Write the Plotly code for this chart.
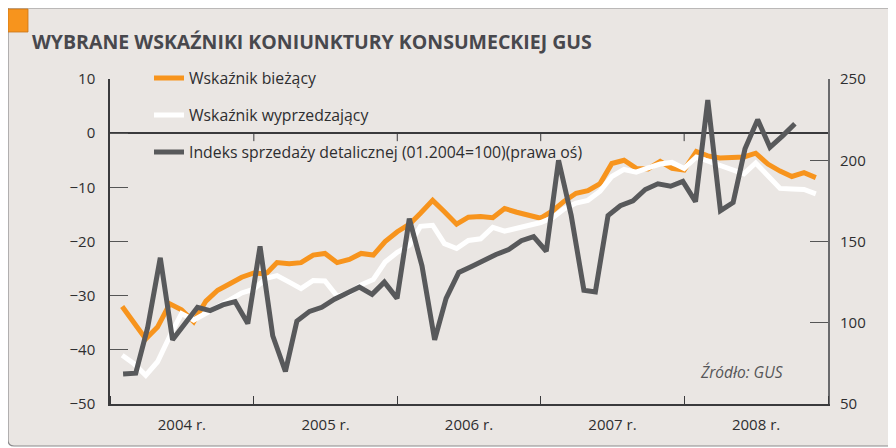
import plotly.graph_objects as go
import pandas as pd

# ---- data ----
months_survey = pd.date_range("2004-01", "2008-11", freq="MS").strftime("%Y-%m").tolist()
months_sales = pd.date_range("2004-01", "2008-07", freq="MS").strftime("%Y-%m").tolist()
year_starts = ["2004-01-01", "2005-01-01", "2006-01-01", "2007-01-01", "2008-01-01", "2009-01-01"]

wskaznik_biezacy = [
    -32, -35, -38, -35.8, -31.5, -32.6, -34.8, -31, -29, -27.8, -26.6, -25.8,
    -26, -23.9, -24.1, -23.9, -22.5, -22.2, -23.9, -23.3, -22.2, -22.5, -20, -18.2,
    -16.8, -14.8, -12.4, -14.5, -16.8, -15.5, -15.4, -15.6, -13.9, -14.6, -15.2, -15.7,
    -14.3, -12.6, -11.1, -10.6, -9.3, -5.6, -5, -6.5, -6.6, -5.2, -6.5, -6.8,
    -3.4, -4.2, -4.6, -4.5, -4.4, -3.7, -5.7, -7, -8, -7.3, -8.2,
]
wskaznik_wyprzedzajacy = [
    -41, -42.5, -44.7, -42.2, -37.5, -33.3, -34.5, -33.3, -32, -30.8, -29.5, -28.8,
    -26.8, -26.3, -27.5, -28.7, -27.2, -27.3, -30.1, -29.5, -28, -27, -23.8, -22,
    -20.7, -17.2, -17, -20.4, -21.3, -19.8, -19.5, -17.4, -18.1, -17.6, -17.1, -16.5,
    -15.6, -14, -12.9, -12.4, -10.7, -8, -6.7, -7.2, -6.4, -5.7, -5.4, -6.5,
    -4.4, -5.2, -6, -6.8, -7.5, -5.5, -8, -10.2, -10.3, -10.4, -11.2,
]
indeks_sprzedazy = [
    68.5, 69, 97, 140, 89.5, 100, 109.5, 107.5, 111, 113, 99.5, 147,
    92, 70, 101, 107, 109.5, 114.5, 118, 122, 117.5, 125, 115, 164,
    135, 89.5, 115, 131, 134.5, 138.5, 142, 145, 150.5, 153, 144, 200,
    166, 120, 119, 166, 172, 175, 182, 185.5, 184, 187, 174.5, 237,
    169, 174, 207, 225, 208, 215, 222.5,
]

names = [
    "Wskaźnik bieżący",
    "Wskaźnik wyprzedzający",
    "Indeks sprzedaży detalicznej (01.2004=100)(prawa oś)",
]
left_ticks = [-50, -40, -30, -20, -10, 0, 10]
right_ticks = [50, 100, 150, 200, 250]

ORANGE = "#F7941D"
WHITE = "#FFFFFF"
GRAY = "#58595B"
BG = "#EAE6E3"
TXT = "#2E2E30"
FONT = "Open Sans"

# plot area in figure pixels
L, T, W, H = 102, 71, 718, 325
FW, FH = 896, 448


def px(x):
    return (x - L) / W


def py(y):
    return (T + H - y) / H


fig = go.Figure()
fig.add_trace(go.Scatter(
    x=months_survey, y=wskaznik_biezacy, name=names[0], mode="lines",
    xperiod="M1", xperiodalignment="end",
    line=dict(color=ORANGE, width=5), legendgroup="a", legendrank=1,
))
fig.add_trace(go.Scatter(
    x=months_survey, y=wskaznik_wyprzedzajacy, name=names[1], mode="lines",
    xperiod="M1", xperiodalignment="end",
    line=dict(color=WHITE, width=5), legendgroup="b", legendrank=2,
))
fig.add_trace(go.Scatter(
    x=months_sales, y=indeks_sprzedazy, name=names[2], mode="lines",
    xaxis="x2", yaxis="y2",
    line=dict(color=GRAY, width=5), legendgroup="c", legendrank=3,
))

axis_line = "#3A3A3C"
tickfont = dict(family=FONT, size=15, color=TXT)

fig.update_layout(
    width=FW, height=FH, autosize=False,
    paper_bgcolor="white", plot_bgcolor="rgba(0,0,0,0)",
    margin=dict(l=L, r=FW - L - W, t=T, b=FH - T - H, autoexpand=False),
    showlegend=True,
    legend=dict(
        x=px(141), y=1.055, xanchor="left", yanchor="top",
        bgcolor="rgba(0,0,0,0)", font=dict(family=FONT, size=15.8, color=TXT),
        tracegroupgap=13.5, traceorder="grouped", itemsizing="constant",
    ),
    xaxis=dict(
        type="date", range=[year_starts[0], year_starts[-1]], domain=[0, 1],
        tick0=year_starts[0], dtick="M12", ticklabelmode="period", tickformat="%Y r.",
        ticks="inside", ticklen=8, tickwidth=1, tickcolor=axis_line,
        showline=True, linecolor=axis_line, linewidth=1.5, showgrid=False, zeroline=False,
        tickfont=tickfont, ticklabelstandoff=6,
    ),
    xaxis2=dict(
        type="date", overlaying="x", anchor="y2", visible=False,
        range=["2003-11-30", "2008-09-20"],
    ),
    yaxis=dict(
        range=[-50, 10], tickvals=left_ticks, domain=[0, 1],
        ticks="inside", ticklen=18, tickwidth=1.2, tickcolor="#555555",
        showline=True, linecolor=axis_line, linewidth=1.5, showgrid=False,
        zeroline=True, zerolinecolor=axis_line, zerolinewidth=1.5,
        tickfont=tickfont, ticklabelstandoff=10,
    ),
    yaxis2=dict(
        range=[50, 250], tickvals=right_ticks, overlaying="y", side="right", anchor="x2",
        ticks="inside", ticklen=18, tickwidth=1.2, tickcolor="#555555",
        showline=True, linecolor="#6A6A6C", linewidth=2, showgrid=False, zeroline=False,
        tickfont=tickfont, ticklabelstandoff=7,
    ),
    title=dict(
        text="<b>WYBRANE WSKAŹNIKI KONIUNKTURY KONSUMECKIEJ GUS</b>",
        xref="container", x=24 / FW, yref="container", y=1 - 34 / FH,
        xanchor="left", yanchor="middle",
        font=dict(family=FONT, size=19.5, color="#48484D"),
    ),
)

# panel background with rounded bottom-left corner
x0, x1, y0, y1, r = px(0), px(FW + 20), py(0), py(438), 6 / W
rv = 6 / H
fig.add_shape(type="path", xref="paper", yref="paper", layer="below",
              path=f"M {x0},{y0} L {x1},{y0} L {x1},{y1} L {x0 + r},{y1} "
                   f"Q {x0},{y1} {x0},{y1 + rv} Z",
              fillcolor=BG, line=dict(color="#8A8A8C", width=1.2))
# orange corner square
fig.add_shape(type="rect", xref="paper", yref="paper",
              x0=px(0), x1=px(20), y0=py(24), y1=py(1),
              fillcolor=ORANGE, line=dict(color="#C8741A", width=0.8))
# small year ticks hanging below the zero line
for d in year_starts[1:-1]:
    fig.add_shape(type="line", xref="x", yref="y", x0=d, x1=d,
                  ysizemode="pixel", yanchor=0, y0=0, y1=-8,
                  line=dict(color=axis_line, width=1))
# source
fig.add_annotation(text="<i>Źródło: GUS</i>", xref="paper", yref="paper",
                   x=px(734), y=py(364), showarrow=False,
                   xanchor="center", yanchor="middle",
                   font=dict(family=FONT, size=15.5, color="#555557"))

fig.write_html("out.html")
